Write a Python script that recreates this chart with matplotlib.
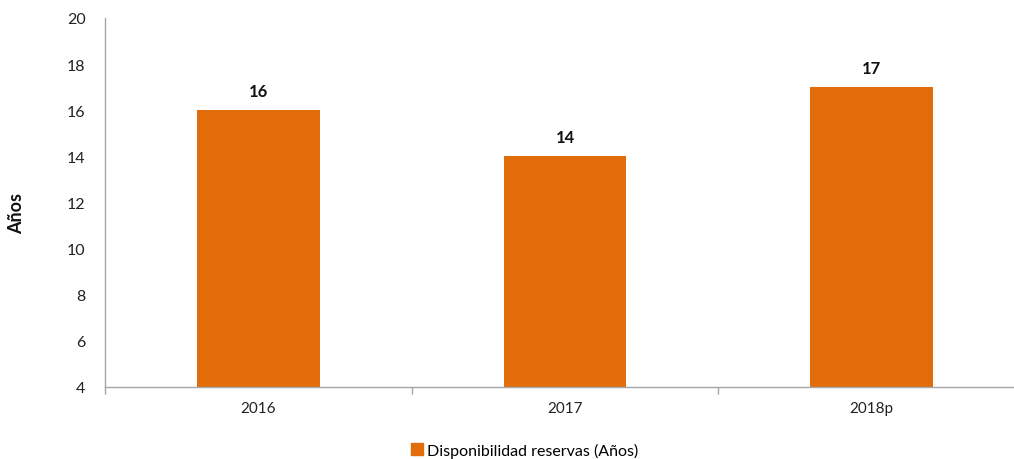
import matplotlib.pyplot as plt
from matplotlib.patches import Patch

years = ['2016', '2017', '2018p']
reservas = [16, 14, 17]
serie = 'Disponibilidad reservas (Años)'

naranja = '#E36C0A'
gris = '#A6A6A6'

plt.rcParams['font.family'] = ['Lato', 'DejaVu Sans']

fig = plt.figure(figsize=(10.14, 4.6), dpi=100)
ax = fig.add_axes([105 / 1014, 72 / 460, 920 / 1014, 369 / 460])

x = list(range(len(years)))
ax.bar(x, reservas, width=0.4, bottom=0, color=naranja, zorder=2)
ax.set_ylim(4, 20)
ax.set_xlim(-0.5, 2.5)
ax.set_yticks(range(4, 21, 2))
ax.tick_params(axis='y', length=0, labelsize=11.5, pad=14, colors='#222222')

# ticks en los bordes de cada categoria, etiquetas en el centro
ax.set_xticks([i - 0.5 for i in range(len(years) + 1)], minor=False)
ax.set_xticklabels([''] * (len(years) + 1))
ax.tick_params(axis='x', which='major', length=5, color=gris, width=1)
ax.set_xticks(x, minor=True)
ax.set_xticklabels(years, minor=True)
ax.tick_params(axis='x', which='minor', length=0, labelsize=11, pad=10, labelcolor='#222222')

for s in ['top', 'right']:
    ax.spines[s].set_visible(False)
for s in ['left', 'bottom']:
    ax.spines[s].set_color(gris)
    ax.spines[s].set_linewidth(1)

for xi, v in zip(x, reservas):
    ax.annotate(str(v), (xi, v), xytext=(0, 8), textcoords='offset points',
                ha='center', va='bottom', fontsize=12, fontweight='bold', color='#111111')

fig.text(17 / 1014, 1 - 214 / 460, 'Años', rotation=90, ha='center', va='center',
         fontsize=13, fontweight='bold', color='#111111')

fig.legend(handles=[Patch(color=naranja, label=serie)], loc='center',
           bbox_to_anchor=(525 / 1014, 1 - 451 / 460), frameon=False, fontsize=11.5,
           handlelength=0.7, handleheight=0.7, handletextpad=0.3)

fig.savefig('out.png', dpi=100)
